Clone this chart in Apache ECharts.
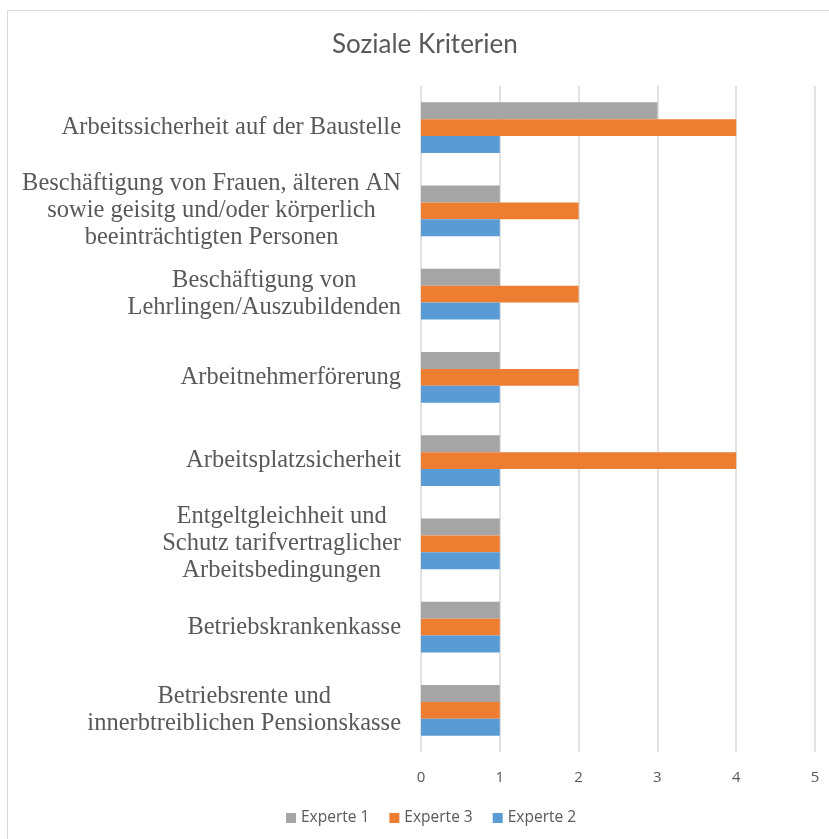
<!DOCTYPE html>
<html>
<head>
<meta charset="utf-8">
<script src="https://cdn.jsdelivr.net/npm/echarts@6/dist/echarts.min.js"></script>
<style>
html,body{margin:0;padding:0;background:#fff;}
#chart{width:829px;height:839px;}
</style>
</head>
<body>
<div id="chart"></div>
<script>
const categories = [
  'Arbeitssicherheit auf der Baustelle',
  'Beschäftigung von Frauen, älteren AN\nsowie geisitg und/oder körperlich\nbeeinträchtigten Personen',
  'Beschäftigung von\nLehrlingen/Auszubildenden',
  'Arbeitnehmerförerung',
  'Arbeitsplatzsicherheit',
  'Entgeltgleichheit und\nSchutz tarifvertraglicher\nArbeitsbedingungen',
  'Betriebskrankenkasse',
  'Betriebsrente und\ninnerbtreiblichen Pensionskasse'
];
const experte1 = [3, 1, 1, 1, 1, 1, 1, 1];
const experte3 = [4, 2, 2, 2, 4, 1, 1, 1];
const experte2 = [1, 1, 1, 1, 1, 1, 1, 1];
const xTicks = [0, 1, 2, 3, 4, 5];

const chart = echarts.init(document.getElementById('chart'));
const option = {
  backgroundColor: '#fff',
  animation: false,
  graphic: [{
    type: 'rect',
    shape: {x: 7.5, y: 10.5, width: 900, height: 900},
    style: {fill: 'none', stroke: '#d9d9d9', lineWidth: 1},
    silent: true
  }],
  title: {
    text: 'Soziale Kriterien',
    left: 332,
    top: 32,
    padding: [0, 0, 0, 0],
    textStyle: {fontFamily: 'Lato', fontWeight: 'normal', fontSize: 26, color: '#595959'}
  },
  legend: {
    bottom: 8,
    left: 281,
    itemWidth: 10,
    itemHeight: 10,
    itemGap: 20,
    icon: 'rect',
    textStyle: {fontFamily: 'Open Sans', fontSize: 15.5, color: '#595959'},
    data: ['Experte 1', 'Experte 3', 'Experte 2']
  },
  grid: {left: 421, right: 14, top: 86, bottom: 87, containLabel: false},
  xAxis: {
    type: 'value',
    min: xTicks[0],
    max: xTicks[xTicks.length - 1],
    interval: 1,
    axisLine: {show: false},
    axisTick: {show: false},
    splitLine: {lineStyle: {color: '#d9d9d9', width: 1.5}},
    axisLabel: {margin: 18, fontFamily: 'Open Sans', fontSize: 15, color: '#595959'}
  },
  yAxis: {
    type: 'category',
    inverse: true,
    data: categories,
    axisLine: {show: false},
    axisTick: {show: false},
    axisLabel: {
      margin: 20,
      formatter: function (v) { return v.split('\n').map(l => '{c|' + l + '}').join('\n'); },
      rich: {c: {align: 'center', fontFamily: 'Liberation Serif', fontSize: 24.5, lineHeight: 27, color: '#595959'}}
    }
  },
  series: [
    {name: 'Experte 1', type: 'bar', data: experte1, itemStyle: {color: '#A5A5A5'}, barGap: '0%', barCategoryGap: '39%'},
    {name: 'Experte 3', type: 'bar', data: experte3, itemStyle: {color: '#ED7D31'}, barGap: '0%', barCategoryGap: '39%'},
    {name: 'Experte 2', type: 'bar', data: experte2, itemStyle: {color: '#5B9BD5'}, barGap: '0%', barCategoryGap: '39%'}
  ]
};
chart.setOption(option);
</script>
</body>
</html>
